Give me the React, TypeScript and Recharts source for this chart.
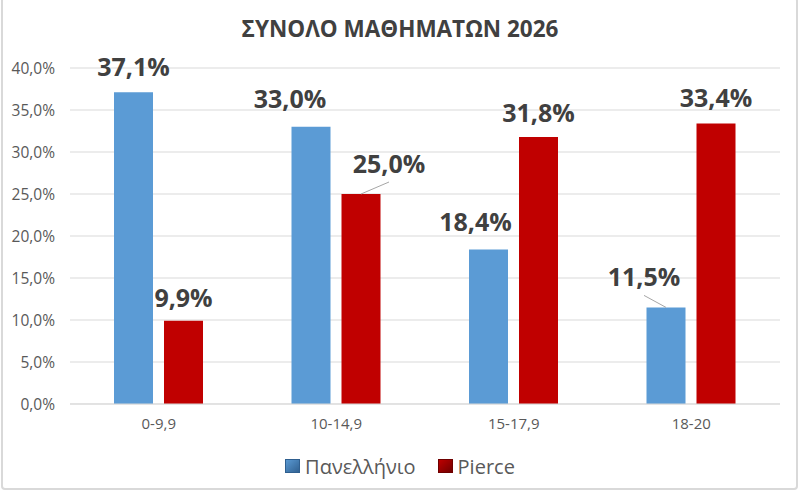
import React from 'react';
import { BarChart, Bar, XAxis, YAxis, CartesianGrid, LabelList } from 'recharts';

const categories = ['0-9,9', '10-14,9', '15-17,9', '18-20'];
const panellinio = [37.1, 33.0, 18.4, 11.5];
const pierce = [9.9, 25.0, 31.8, 33.4];
const yTicks = [0, 5, 10, 15, 20, 25, 30, 35, 40];

const data = categories.map((c, i) => ({ name: c, panellinio: panellinio[i], pierce: pierce[i] }));

const BLUE = '#5B9BD5';
const RED = '#C00000';
const FONT = '"Open Sans", "Noto Sans", sans-serif';

// label placement relative to the top centre of each bar: [dx, dy, leader line]
const blueLabelPos: [number, number, boolean][] = [[0, -26, false], [-21, -29, false], [-13, -28, false], [-22, -31, true]];
const redLabelPos: [number, number, boolean][] = [[0, -24, false], [28, -31, true], [0, -25, false], [0, -26, false]];

const fmt = (v: number) => v.toFixed(1).replace('.', ',') + '%';

const makeLabel = (pos: [number, number, boolean][]) => (props: any) => {
    const { x, y, width, value, index } = props;
    const cx = Number(x) + Number(width) / 2;
    const top = Number(y);
    const [dx, dy, leader] = pos[index];
    const lx = cx + dx;
    const ly = top + dy;
    return (
        <g>
            {leader && <line x1={cx} y1={top} x2={lx} y2={ly + 19} stroke="#a6a6a6" strokeWidth={1} />}
            <text x={lx} y={ly} textAnchor="middle" dominantBaseline="central"
                fontFamily={FONT} fontWeight={700} fontSize={25} fill="#404040">
                {fmt(value)}
            </text>
        </g>
    );
};

const LegendIcon = ({ color, dark, id }: { color: string; dark: string; id: string }) => (
    <svg width={15} height={14} style={{ marginRight: 5 }}>
        <defs>
            <linearGradient id={id} x1="0" y1="0" x2="1" y2="1">
                <stop offset="0%" stopColor={color} />
                <stop offset="100%" stopColor={dark} />
            </linearGradient>
        </defs>
        <rect x={0.5} y={0.5} width={14} height={13} fill={`url(#${id})`} stroke={dark} />
    </svg>
);

export default function App() {
    return (
        <div style={{ position: 'fixed', left: 0, top: 0, width: 800, height: 493, background: '#fff', overflow: 'hidden' }}>
            <div style={{
                position: 'absolute', left: 1, top: -3, width: 797, height: 493, boxSizing: 'border-box',
                border: '2px solid #d9d9d9', borderRadius: 4,
            }} />
            <div style={{
                position: 'absolute', top: 14, left: 0, width: 800, textAlign: 'center',
                fontFamily: FONT, fontWeight: 700, fontSize: 22.5, color: '#404040', lineHeight: '30px',
            }}>
                ΣΥΝΟΛΟ ΜΑΘΗΜΑΤΩΝ 2026
            </div>
            <div style={{ position: 'absolute', left: 0, top: 0 }}>
                <BarChart width={800} height={493} data={data}
                    margin={{ top: 68, right: 20, left: 8, bottom: 59 }}
                    barSize={39} barGap={11}>
                    <CartesianGrid vertical={false} stroke="#d9d9d9" />
                    <XAxis dataKey="name" axisLine={{ stroke: '#d9d9d9' }} tickLine={false} tickMargin={8}
                        tick={{ fontFamily: FONT, fontSize: 15, fill: '#595959' }} height={30} />
                    <YAxis width={62} domain={[0, 40]} ticks={yTicks} axisLine={false} tickLine={false} tickMargin={9}
                        tickFormatter={(v: number) => fmt(v)}
                        tick={{ fontFamily: FONT, fontSize: 15.5, fill: '#595959' }} />
                    <Bar dataKey="panellinio" name="Πανελλήνιο" fill={BLUE} isAnimationActive={false}>
                        <LabelList dataKey="panellinio" content={makeLabel(blueLabelPos)} />
                    </Bar>
                    <Bar dataKey="pierce" name="Pierce" fill={RED} isAnimationActive={false}>
                        <LabelList dataKey="pierce" content={makeLabel(redLabelPos)} />
                    </Bar>
                </BarChart>
            </div>
            <div style={{
                position: 'absolute', top: 452, left: 0, width: 800, height: 28,
                display: 'flex', justifyContent: 'center', alignItems: 'center',
                fontFamily: FONT, fontSize: 20, color: '#595959',
            }}>
                <div style={{ display: 'flex', alignItems: 'center', marginRight: 22 }}>
                    <LegendIcon color={BLUE} dark="#2f5f8f" id="lgBlue" />
                    <span>Πανελλήνιο</span>
                </div>
                <div style={{ display: 'flex', alignItems: 'center' }}>
                    <LegendIcon color={RED} dark="#6e0000" id="lgRed" />
                    <span>Pierce</span>
                </div>
            </div>
        </div>
    );
}
